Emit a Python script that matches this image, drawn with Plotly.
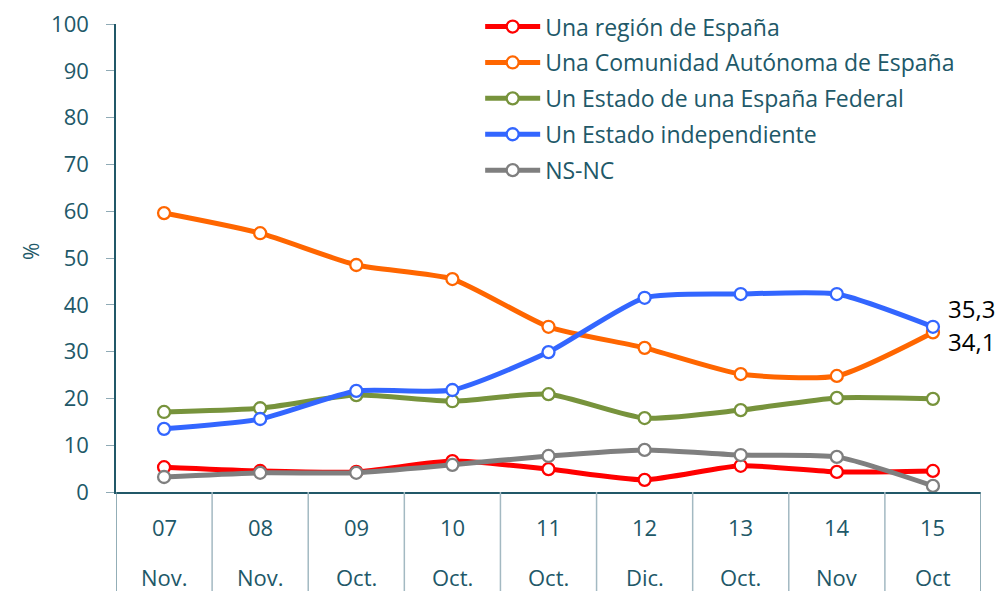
import plotly.graph_objects as go

years = ["07", "08", "09", "10", "11", "12", "13", "14", "15"]
months = ["Nov.", "Nov.", "Oct.", "Oct.", "Oct.", "Dic.", "Oct.", "Nov", "Oct"]

region = [5.3, 4.5, 4.3, 6.6, 4.9, 2.6, 5.6, 4.3, 4.5]
comunidad = [59.6, 55.3, 48.5, 45.5, 35.3, 30.8, 25.2, 24.8, 34.1]
federal = [17.1, 17.9, 20.7, 19.4, 20.9, 15.8, 17.5, 20.1, 19.9]
independiente = [13.5, 15.6, 21.6, 21.8, 29.9, 41.5, 42.3, 42.3, 35.3]
nsnc = [3.2, 4.1, 4.1, 5.8, 7.7, 9.0, 7.9, 7.5, 1.3]

series = [
    ("Una región de España", region, "#FF0000"),
    ("Una Comunidad Autónoma de España", comunidad, "#FF6600"),
    ("Un Estado de una España Federal", federal, "#77933C"),
    ("Un Estado independiente", independiente, "#3366FF"),
    ("NS-NC", nsnc, "#7F7F7F"),
]

TEXT = "#215868"
FONT = "Open Sans"

x = list(range(len(years)))
fig = go.Figure()
for i, (name, vals, col) in enumerate(series):
    fig.add_trace(go.Scatter(
        x=x, y=vals, name=name, mode="lines+markers",
        line=dict(color=col, width=5, shape="spline", smoothing=0.6),
        marker=dict(symbol="circle", size=12, color="white", line=dict(color=col, width=2.3)),
        legendgroup=f"g{i}", cliponaxis=False,
    ))

annotations = []
for i, (yr, mo) in enumerate(zip(years, months)):
    annotations.append(dict(x=i, y=0, xref="x", yref="y", text=yr, showarrow=False,
                            yshift=-35, font=dict(size=22, color=TEXT, family=FONT)))
    annotations.append(dict(x=i, y=0, xref="x", yref="y", text=mo, showarrow=False,
                            yshift=-85, font=dict(size=22, color=TEXT, family=FONT)))

last = len(years) - 1
annotations.append(dict(x=last, y=independiente[last], xref="x", yref="y", text="35,3",
                        showarrow=False, xanchor="left", xshift=13, yshift=18,
                        font=dict(size=24, color="black", family=FONT)))
annotations.append(dict(x=last, y=comunidad[last], xref="x", yref="y", text="34,1",
                        showarrow=False, xanchor="left", xshift=13, yshift=-9,
                        font=dict(size=24, color="black", family=FONT)))
# y-axis title
annotations.append(dict(x=0, y=50, xref="paper", yref="y", text="%", showarrow=False,
                        textangle=-90, xshift=-101, yshift=6,
                        font=dict(size=21, color=TEXT, family=FONT)))

shapes = []
for i in range(len(years) + 1):
    shapes.append(dict(type="line", xref="x", yref="paper", x0=i - 0.5, x1=i - 0.5,
                       y0=0, y1=-0.25,
                       line=dict(color="#A3B9C2" if 0 < i < len(years) else "#6F939F", width=1.5)))

# page body has an 8px margin: compensate so the plot lands where the reference has it
fig.update_layout(
    width=1003, height=591,
    margin=dict(l=108, r=30, t=0, b=107, autoexpand=False),
    paper_bgcolor="white", plot_bgcolor="white",
    showlegend=True,
    legend=dict(x=0.421, y=1.006, xanchor="left", yanchor="top", traceorder="grouped",
                tracegroupgap=3, font=dict(size=23, color=TEXT, family=FONT),
                bgcolor="rgba(0,0,0,0)", itemwidth=55),
    xaxis=dict(range=[-0.5, len(years) - 0.5], showticklabels=False, showgrid=False,
               zeroline=False, showline=True, linecolor=TEXT, linewidth=1.5, ticks=""),
    yaxis=dict(range=[0, 100], dtick=10, showgrid=False, zeroline=False, showline=True,
               domain=[0, 468 / 484], automargin=False, ticklabeloverflow="allow",
               linecolor=TEXT, linewidth=1.5, ticks="outside", ticklen=8, tickcolor="#8FAAB5",
               ticklabelstandoff=13,
               tickfont=dict(size=22, color=TEXT, family=FONT)),
    annotations=annotations, shapes=shapes,
)

fig.write_html("out.html")
